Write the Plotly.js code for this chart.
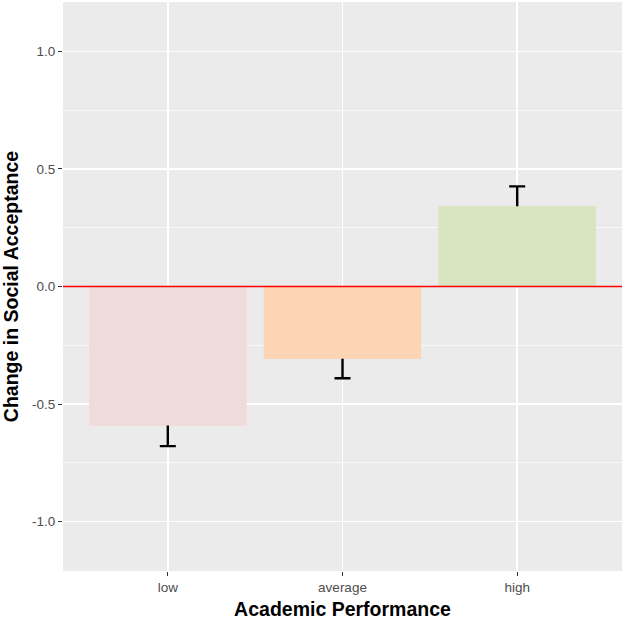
<!DOCTYPE html>
<html>
<head>
<meta charset="utf-8">
<script src="https://cdn.plot.ly/plotly-3.0.1.min.js"></script>
<style>html,body{margin:0;padding:0;background:#fff;}#chart{width:624px;height:620px;}</style>
</head>
<body>
<div id="chart"></div>
<script>
const categories = ["low", "average", "high"];
const meanChange = [-0.591, -0.307, 0.341];
const stdError = [0.088, 0.083, 0.085];
const barColors = ["#F0DBDB", "#FCD5B4", "#D9E4C1"];
const yTickVals = [-1.0, -0.5, 0.0, 0.5, 1.0];
const yTickText = ["-1.0", "-0.5", "0.0", "0.5", "1.0"];
const referenceLine = 0;

const font = "Liberation Sans, Arial, sans-serif";

const errTrace = {
  type: "bar",
  x: categories,
  y: meanChange,
  width: 0.9,
  marker: {color: barColors, line: {width: 0}},
  error_y: {type: "data", array: stdError, symmetric: true, visible: true,
            color: "#000000", thickness: 2.4, width: 8},
  hoverinfo: "skip",
  showlegend: false
};
const barTrace = {
  type: "bar",
  x: categories,
  y: meanChange,
  width: 0.9,
  marker: {color: barColors, line: {width: 0}},
  showlegend: false
};

const layout = {
  width: 624,
  height: 620,
  margin: {l: 63, r: 2, t: 2, b: 49},
  paper_bgcolor: "#FFFFFF",
  plot_bgcolor: "#EBEBEB",
  barmode: "overlay",
  showlegend: false,
  font: {family: font, color: "#4D4D4D"},
  xaxis: {
    type: "category",
    range: [-0.6, 2.6],
    showgrid: true, gridcolor: "#FFFFFF", gridwidth: 1.4,
    zeroline: false, showline: false,
    ticks: "outside", ticklen: 4, tickwidth: 1.1, tickcolor: "#333333",
    tickfont: {family: font, size: 13.5, color: "#4D4D4D"},
    title: {text: "Academic Performance", font: {family: font, size: 19.5, color: "#000000", weight: "bold"}, standoff: 12},
    automargin: false
  },
  yaxis: {
    range: [-1.21, 1.21],
    tickvals: yTickVals, ticktext: yTickText,
    showgrid: true, gridcolor: "#FFFFFF", gridwidth: 1.4,
    minor: {dtick: 0.25, tick0: 0, showgrid: true, gridcolor: "#FFFFFF", gridwidth: 0.7, ticks: ""},
    zeroline: false, showline: false,
    ticks: "outside", ticklen: 4, tickwidth: 1.1, tickcolor: "#333333",
    tickfont: {family: font, size: 13.5, color: "#4D4D4D"},
    title: {text: "Change in Social Acceptance", font: {family: font, size: 19.5, color: "#000000", weight: "bold"}, standoff: 12},
    automargin: false
  },
  shapes: [{
    type: "line", xref: "paper", x0: 0, x1: 1, yref: "y", y0: referenceLine, y1: referenceLine,
    line: {color: "#FF0000", width: 1.6}, layer: "above"
  }]
};

Plotly.newPlot("chart", [errTrace, barTrace], layout, {displayModeBar: false, staticPlot: true});
</script>
</body>
</html>
